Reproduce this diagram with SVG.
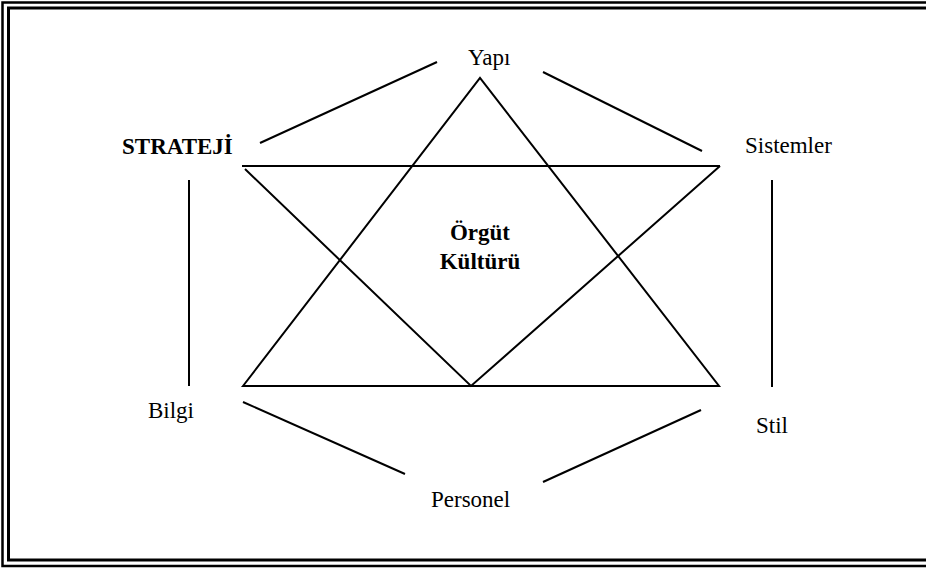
<svg xmlns="http://www.w3.org/2000/svg" width="926" height="568" viewBox="0 0 926 568">
<style>
.frame{fill:none;stroke:#000}
.ln{stroke:#000;stroke-width:2;fill:none;stroke-linecap:butt}
.lbl{font-family:"Liberation Serif","Times New Roman",serif;font-size:23px;fill:#000}
.b{font-weight:bold}
</style>
<rect width="926" height="568" fill="#fff"/>
<g id="frame">
<rect class="frame" x="2.5" y="2.5" width="940" height="563.5" stroke-width="2.5"/>
<rect class="frame" x="8.5" y="8" width="930" height="552" stroke-width="3"/>
</g>
<g id="connectors">
<line class="ln" x1="260" y1="143" x2="437" y2="62"/>
<line class="ln" x1="543" y1="72" x2="702" y2="151"/>
<line class="ln" x1="242" y1="166" x2="720" y2="166"/>
<polyline class="ln" points="245,169 471,386 720,166"/>
<polygon class="ln" points="243,386 480,78 719,386" stroke-linejoin="miter"/>
<line class="ln" x1="189" y1="180" x2="189" y2="386"/>
<line class="ln" x1="772" y1="180" x2="772" y2="387"/>
<line class="ln" x1="243" y1="402" x2="405" y2="474"/>
<line class="ln" x1="543" y1="482" x2="701" y2="410"/>
</g>
<g id="node-yapi"><text class="lbl" x="468" y="65">Yapı</text></g>
<g id="node-sistemler"><text class="lbl" x="745" y="153">Sistemler</text></g>
<g id="node-strateji"><text class="lbl b" x="122" y="154">STRATEJİ</text></g>
<g id="node-bilgi"><text class="lbl" x="148" y="418">Bilgi</text></g>
<g id="node-personel"><text class="lbl" x="431" y="507">Personel</text></g>
<g id="node-stil"><text class="lbl" x="756" y="433">Stil</text></g>
<g id="node-orgut"><text class="lbl b" text-anchor="middle"><tspan x="480" y="240">Örgüt</tspan><tspan x="480" y="269">Kültürü</tspan></text></g>
</svg>
